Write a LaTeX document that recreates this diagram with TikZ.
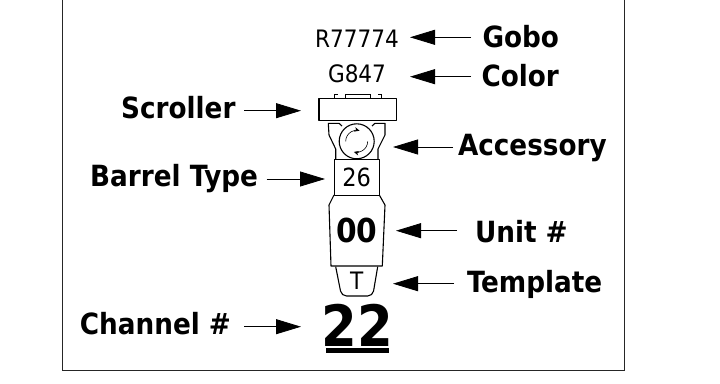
\documentclass[tikz,border=0pt]{standalone}
\usepackage{fontspec}
\setmainfont{DejaVu Sans Condensed}
\usetikzlibrary{arrows.meta}
\tikzset{
  callout/.style={font=\fontsize{29.2}{29.2}\bfseries\selectfont, inner sep=0pt, outer sep=0pt, text=black},
  pointer/.style={line width=0.8pt, -{Triangle[length=25pt,width=15pt]}},
  outline/.style={line width=1.1pt, line join=round},
  unittext/.style={inner sep=0pt, text=black}
}
\begin{document}
\begin{tikzpicture}[x=1pt,y=-1pt]
            \useasboundingbox (0,0) rectangle (720,383);
            % frame, open at the top
            \coordinate (FA) at (62.5,0);
            \coordinate (FB) at (62.5,370);
            \coordinate (FC) at (624.5,370);
            \coordinate (FD) at (624.5,0);
            \draw[line width=1pt, black!85] (FA)--(FB)--(FC)--(FD);
            % instrument
            \coordinate (S1) at (319,98.7);
            \coordinate (S2) at (396.3,120.3);
            \draw[outline] (S1) rectangle (S2);
            \draw[line width=0.7pt] (334.3,98.7)--(334.3,94.6)--(337.5,94.6);
            \draw[line width=0.7pt] (381,98.7)--(381,94.6)--(378,94.6);
            \draw[line width=0.7pt] (345.3,98.7)--(345.3,94.6)--(370,94.6)--(370,98.7);
            \draw[outline] (335.7,159.7)--(335.7,149)--(329,135)--(328.3,123.3)--(339,123.3)--(342,126);
            \draw[outline] (378,159.7)--(378,149)--(385,135)--(385,123.3)--(375,123.3)--(372,126);
            \node[draw, circle, line width=1.1pt, minimum size=35pt, inner sep=0pt, fill=white] (wheel) at (356.7,141.3) {};
            \coordinate (WL) at (345.7,141.3);
            \coordinate (WR) at (367.7,141.3);
            \draw[line width=0.6pt, -{Stealth[length=5pt,width=4.5pt]}] (WL) arc[start angle=180, end angle=285, radius=11];
            \draw[line width=0.6pt, -{Stealth[length=5pt,width=4.5pt]}] (WR) arc[start angle=0, end angle=105, radius=11];
            \node[draw, outline, minimum width=45.3pt, minimum height=35.3pt, inner sep=0pt, unittext,
              font=\fontsize{25}{25}\selectfont] (barrel) at (356.7,177.4) {26};
            \draw[outline] (334,195)--(329,205)--(331,266)--(382.3,266)--(385,205)--(379.3,195);
            \node[unittext, font=\fontsize{33}{33}\bfseries\selectfont] (unit) at (356.7,230.7) {00};
            \draw[outline, rounded corners=5pt] (335.7,266.7)--(341.5,296)--(372.7,296)--(377.7,266.7);
            \node[unittext, font=\fontsize{24}{24}\selectfont] (template) at (356.7,280.6) {T};
            \node[unittext, font=\fontsize{24}{24}\selectfont] (gobo) at (357,39) {R77774};
            \node[unittext, font=\fontsize{24}{24}\selectfont] (color) at (357,73.5) {G847};
            \node[unittext, font=\fontsize{57}{57}\bfseries\selectfont] (channel) at (357.3,325.5) {22};
            \coordinate (UA) at (326,350.2);
            \coordinate (UB) at (389,350.2);
            \draw[line width=5pt] (UA)--(UB);
            % labels
            \node[callout, anchor=base west] (lgobo) at (482.5,47.3) {Gobo};
            \node[callout, anchor=base west] (lcolor) at (481.5,86.7) {Color};
            \node[callout, anchor=base east] (lscroller) at (235.5,118.3) {Scroller};
            \node[callout, anchor=base west] (laccessory) at (458,155.3) {Accessory};
            \node[callout, anchor=base east] (lbarrel) at (258,186) {Barrel Type};
            \node[callout, anchor=base west] (lunit) at (475,242.3) {Unit \#};
            \node[callout, anchor=base west] (ltemplate) at (467,292.3) {Template};
            \node[callout, anchor=base east] (lchannel) at (231,334.3) {Channel \#};
            % arrows
            \coordinate (TG) at (410,37.3);
            \coordinate (GT) at (471,37.3);
            \coordinate (TC) at (410,76.7);
            \coordinate (CT) at (471,76.7);
            \coordinate (SC) at (244,110.7);
            \coordinate (TS) at (301,110.7);
            \coordinate (TA) at (393,147);
            \coordinate (AT) at (453,147);
            \coordinate (BT) at (266.7,179);
            \coordinate (TB) at (325,179);
            \coordinate (TU) at (396,230.7);
            \coordinate (UT) at (457,230.7);
            \coordinate (TT) at (393,283.7);
            \coordinate (LT) at (454,283.7);
            \coordinate (CH) at (244,326.7);
            \coordinate (TH) at (301,326.7);
            \draw[pointer] (GT)--(TG);
            \draw[pointer] (CT)--(TC);
            \draw[pointer] (SC)--(TS);
            \draw[pointer] (AT)--(TA);
            \draw[pointer] (BT)--(TB);
            \draw[pointer] (UT)--(TU);
            \draw[pointer] (LT)--(TT);
            \draw[pointer] (CH)--(TH);
        \end{tikzpicture}
\end{document}
